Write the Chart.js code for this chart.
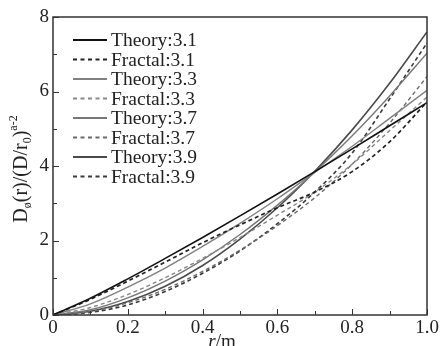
<!DOCTYPE html>
<html>
<head>
<meta charset="utf-8">
<script src="https://cdn.jsdelivr.net/npm/chart.js@4.4.1/dist/chart.umd.min.js"></script>
<style>
  html, body { margin: 0; padding: 0; background: #fff; }
  #wrap { width: 442px; height: 346px; }
</style>
</head>
<body>
<div id="wrap"><canvas id="chart" width="442" height="346"></canvas></div>
<script>
// r values (m)
const rValues = [0, 0.1, 0.2, 0.3, 0.4, 0.5, 0.6, 0.7, 0.8, 0.9, 1.0];

// Theory curves
const theory31 = [0, 0.45, 0.97, 1.52, 2.08, 2.66, 3.25, 3.85, 4.46, 5.08, 5.70];
const theory33 = [0, 0.30, 0.75, 1.26, 1.84, 2.46, 3.12, 3.83, 4.53, 5.28, 6.03];
const theory37 = [0, 0.14, 0.46, 0.91, 1.48, 2.16, 2.95, 3.84, 4.81, 5.88, 7.03];
const theory39 = [0, 0.10, 0.36, 0.77, 1.33, 2.04, 2.88, 3.86, 4.97, 6.22, 7.60];

// Fractal curves
const fractal31 = [0, 0.42, 0.91, 1.42, 1.94, 2.42, 2.88, 3.30, 3.85, 4.65, 5.72];
const fractal33 = [0, 0.20, 0.55, 1.00, 1.52, 2.08, 2.68, 3.30, 4.05, 4.95, 5.85];
const fractal37 = [0, 0.09, 0.33, 0.69, 1.17, 1.74, 2.40, 3.15, 4.05, 5.15, 6.40];
const fractal39 = [0, 0.07, 0.27, 0.63, 1.12, 1.72, 2.45, 3.30, 4.35, 5.80, 7.30];

const xTicks = [0, 0.2, 0.4, 0.6, 0.8, 1.0];
const yTicks = [0, 2, 4, 6, 8];

const FONT = '"Liberation Serif", "DejaVu Serif", serif';

function pts(ys) {
  return rValues.map((r, i) => ({ x: r, y: ys[i] }));
}

function line(label, ys, color, dashed, width) {
  return {
    label: label,
    data: pts(ys),
    borderColor: color,
    borderWidth: width || 1.4,
    borderDash: dashed ? [4, 3] : [],
    pointRadius: 0,
    fill: false,
    cubicInterpolationMode: 'monotone'
  };
}

const datasets = [
  line('Theory:3.1', theory31, '#111111', false, 1.6),
  line('Fractal:3.1', fractal31, '#222222', true, 1.7),
  line('Theory:3.3', theory33, '#808080', false),
  line('Fractal:3.3', fractal33, '#888888', true),
  line('Theory:3.7', theory37, '#777777', false),
  line('Fractal:3.7', fractal37, '#6a6a6a', true),
  line('Theory:3.9', theory39, '#4a4a4a', false, 1.6),
  line('Fractal:3.9', fractal39, '#3a3a3a', true, 1.6)
];

// inward ticks, frame, legend and axis titles
const decorations = {
  id: 'decorations',
  afterDatasetsDraw(chart) {
    const ctx = chart.ctx;
    const a = chart.chartArea;
    const xs = chart.scales.x;
    const ys = chart.scales.y;
    ctx.save();

    // frame
    ctx.strokeStyle = '#333';
    ctx.lineWidth = 1.5;
    ctx.setLineDash([]);
    ctx.strokeRect(a.left, a.top, a.right - a.left, a.bottom - a.top);

    // ticks
    ctx.lineWidth = 1;
    for (let v = 0; v <= 1.0001; v += 0.1) {
      const px = Math.round(xs.getPixelForValue(v)) + 0.5;
      const major = Math.round(v * 10) % 2 === 0;
      const len = major ? 6 : 4;
      ctx.beginPath();
      ctx.moveTo(px, a.bottom);
      ctx.lineTo(px, a.bottom - len);
      ctx.stroke();
    }
    for (let v = 0; v <= 8; v += 1) {
      const py = Math.round(ys.getPixelForValue(v)) + 0.5;
      const len = v % 2 === 0 ? 6 : 4;
      ctx.beginPath();
      ctx.moveTo(a.left, py);
      ctx.lineTo(a.left + len, py);
      ctx.stroke();
    }

    // legend
    const lx = 73, lx2 = 107, ly0 = 40, step = 19.5;
    ctx.font = '19.5px ' + FONT;
    ctx.textBaseline = 'middle';
    ctx.textAlign = 'left';
    chart.data.datasets.forEach((ds, i) => {
      const y = ly0 + i * step;
      ctx.strokeStyle = ds.borderColor;
      ctx.lineWidth = 2;
      ctx.setLineDash(ds.borderDash.length ? [4, 3.5] : []);
      ctx.beginPath();
      ctx.moveTo(lx, y);
      ctx.lineTo(lx2, y);
      ctx.stroke();
      ctx.setLineDash([]);
      ctx.fillStyle = '#222';
      ctx.fillText(ds.label, 111, y + 1);
    });

    // x title: r/m
    ctx.fillStyle = '#222';
    ctx.textBaseline = 'alphabetic';
    ctx.font = 'italic 19px ' + FONT;
    const rW = ctx.measureText('r').width;
    ctx.font = '19px ' + FONT;
    const mW = ctx.measureText('/m').width;
    let tx = 222 - (rW + mW) / 2;
    ctx.font = 'italic 19px ' + FONT;
    ctx.fillText('r', tx, 347);
    ctx.font = '19px ' + FONT;
    ctx.fillText('/m', tx + rW, 347);

    // y title: D_ø(r)/(D/r_0)^(a-2)
    const parts = [
      { t: 'D', s: 20, dy: 0 },
      { t: 'ø', s: 12, dy: 4 },
      { t: '(r)/(D/r', s: 20, dy: 0 },
      { t: '0', s: 12, dy: 4 },
      { t: ')', s: 20, dy: 0 },
      { t: 'a-2', s: 12, dy: -10 }
    ];
    let total = 0;
    parts.forEach(p => {
      ctx.font = p.s + 'px ' + FONT;
      p.w = ctx.measureText(p.t).width;
      total += p.w;
    });
    ctx.translate(27, (a.top + a.bottom) / 2 + 3);
    ctx.rotate(-Math.PI / 2);
    let cx = -total / 2;
    parts.forEach(p => {
      ctx.font = p.s + 'px ' + FONT;
      ctx.fillText(p.t, cx, p.dy);
      cx += p.w;
    });
    ctx.restore();
  }
};

const ctx = document.getElementById('chart').getContext('2d');
new Chart(ctx, {
  type: 'line',
  data: { datasets: datasets },
  options: {
    responsive: false,
    animation: false,
    layout: { padding: { top: 17, right: 15, left: 0, bottom: 0 } },
    plugins: {
      legend: { display: false },
      tooltip: { enabled: false }
    },
    scales: {
      x: {
        type: 'linear',
        min: 0,
        max: 1,
        afterBuildTicks(scale) { scale.ticks = xTicks.map(v => ({ value: v })); },
        afterFit(scale) { scale.height = 31; },
        grid: { display: false, drawTicks: false },
        border: { display: false },
        ticks: {
          color: '#222',
          padding: 2,
          maxRotation: 0,
          font: { family: FONT, size: 19 },
          callback: v => (v === 0 ? '0' : v.toFixed(1))
        }
      },
      y: {
        min: 0,
        max: 8,
        afterBuildTicks(scale) { scale.ticks = yTicks.map(v => ({ value: v })); },
        afterFit(scale) { scale.width = 53; },
        grid: { display: false, drawTicks: false },
        border: { display: false },
        ticks: {
          color: '#222',
          padding: 4,
          font: { family: FONT, size: 19 },
          callback: v => String(v)
        }
      }
    }
  },
  plugins: [decorations]
});
</script>
</body>
</html>
